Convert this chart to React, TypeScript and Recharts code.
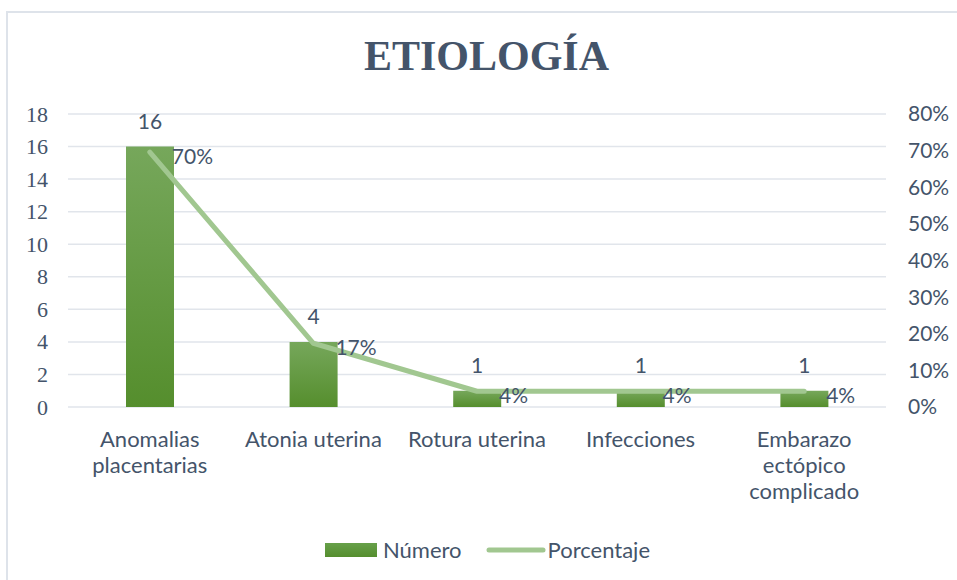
import { ComposedChart, Bar, Line, XAxis, YAxis, CartesianGrid, LabelList } from 'recharts';

const categories = ['Anomalias placentarias', 'Atonia uterina', 'Rotura uterina', 'Infecciones', 'Embarazo ectópico complicado'];
const numero = [16, 4, 1, 1, 1];
const porcentaje = [0.696, 0.174, 0.043, 0.043, 0.043];
const leftTicks = [0, 2, 4, 6, 8, 10, 12, 14, 16, 18];
const rightTicks = [0, 0.1, 0.2, 0.3, 0.4, 0.5, 0.6, 0.7, 0.8];

const TEXT = '#44546A';
const SANS = 'Lato, "Open Sans", sans-serif';
const SERIF = '"Liberation Serif", "DejaVu Serif", serif';
const LINE_COLOR = '#A1C790';

const chartData = categories.map((name, i) => ({
  name,
  numero: numero[i],
  porcentaje: porcentaje[i],
}));

// wrap category names the way the original does (about 14 chars per line)
const wrap = (label: string, max = 14) => {
  const words = label.split(' ');
  const lines: string[] = [];
  let cur = '';
  words.forEach((w) => {
    const next = cur ? `${cur} ${w}` : w;
    if (next.length > max && cur) {
      lines.push(cur);
      cur = w;
    } else {
      cur = next;
    }
  });
  if (cur) lines.push(cur);
  return lines;
};

type TickProps = { x?: number; y?: number; payload?: { value: string | number } };

const CategoryTick = ({ x = 0, y = 0, payload }: TickProps) => {
  const lines = wrap(String(payload?.value ?? ''));
  return (
    <text x={x} y={y} textAnchor="middle" fill={TEXT} fontFamily={SANS} fontSize={22}>
      {lines.map((l, i) => (
        <tspan key={i} x={x} dy={i === 0 ? 32 : 26}>
          {l}
        </tspan>
      ))}
    </text>
  );
};

const LeftTick = ({ x = 0, y = 0, payload }: TickProps) => (
  <text x={x} y={y} textAnchor="end" dominantBaseline="central" fill={TEXT} fontFamily={SERIF} fontSize={22}>
    {payload?.value}
  </text>
);

type LabelProps = { x?: number; y?: number; value?: number };

const PctLabel = ({ x = 0, y = 0, value = 0 }: LabelProps) => (
  <text x={x + 22} y={y + 3} fill={TEXT} fontFamily={SANS} fontSize={21} dominantBaseline="central">
    {`${Math.round(value * 100)}%`}
  </text>
);

const CustomLegend = () => (
  <div
    style={{
      position: 'absolute',
      left: 0,
      width: 957,
      top: 536,
      display: 'flex',
      justifyContent: 'center',
      alignItems: 'center',
      fontFamily: SANS,
      fontSize: 22,
      color: TEXT,
      paddingLeft: 18,
      boxSizing: 'border-box',
    }}
  >
    <svg width={52} height={14} style={{ marginRight: 6 }}>
      <defs>
        <linearGradient id="legendGrad" x1="0" y1="0" x2="0" y2="1">
          <stop offset="0%" stopColor="#67A04A" />
          <stop offset="100%" stopColor="#558E2E" />
        </linearGradient>
      </defs>
      <rect x={0} y={0} width={52} height={14} fill="url(#legendGrad)" />
    </svg>
    <span style={{ marginRight: 24 }}>Número</span>
    <svg width={60} height={10} style={{ marginRight: 2 }}>
      <line x1={3} y1={5} x2={57} y2={5} stroke={LINE_COLOR} strokeWidth={5} strokeLinecap="round" />
    </svg>
    <span>Porcentaje</span>
  </div>
);

export default function App() {
  return (
    <div style={{ position: 'absolute', left: 0, top: 0, width: 957, height: 580, background: '#fff', overflow: 'hidden' }}>
      <div
        style={{
          position: 'absolute',
          left: 6,
          top: 11,
          width: 1000,
          height: 700,
          borderTop: '2px solid #DEE3EA',
          borderLeft: '2px solid #DEE3EA',
        }}
      />
      <div
        style={{
          position: 'absolute',
          left: 0,
          width: 957,
          top: 32,
          textAlign: 'center',
          fontFamily: SERIF,
          fontWeight: 'bold',
          fontSize: 42,
          color: TEXT,
          paddingLeft: 16,
          boxSizing: 'border-box',
        }}
      >
        ETIOLOGÍA
      </div>
      <div style={{ position: 'absolute', left: 0, top: 0 }}>
        <ComposedChart width={957} height={580} data={chartData} margin={{ top: 114, right: 0, left: 0, bottom: 143 }}>
          <defs>
            <linearGradient id="barGrad" x1="0" y1="0" x2="0" y2="1">
              <stop offset="0%" stopColor="#76A75B" />
              <stop offset="100%" stopColor="#558E2D" />
            </linearGradient>
          </defs>
          <CartesianGrid vertical={false} stroke="#E1E5EB" strokeWidth={1.5} yAxisId="left" />
          <XAxis dataKey="name" height={30} axisLine={false} tickLine={false} tick={<CategoryTick />} interval={0} />
          <YAxis
            yAxisId="left"
            width={68}
            domain={[0, 18]}
            ticks={leftTicks}
            interval={0}
            axisLine={false}
            tickLine={false}
            tickMargin={14}
            tick={<LeftTick />}
          />
          <YAxis
            yAxisId="right"
            orientation="right"
            width={71}
            domain={[0, 0.8]}
            ticks={rightTicks}
            interval={0}
            axisLine={false}
            tickLine={false}
            tickMargin={16}
            tickFormatter={(v: number) => `${Math.round(v * 100)}%`}
            tick={{ fill: TEXT, fontFamily: SANS, fontSize: 21, textAnchor: 'start' }}
          />
          <Bar yAxisId="left" dataKey="numero" name="Número" fill="url(#barGrad)" barSize={48} isAnimationActive={false}>
            <LabelList dataKey="numero" position="top" offset={18} fill={TEXT} fontFamily={SANS} fontSize={21} />
          </Bar>
          <Line
            yAxisId="right"
            type="linear"
            dataKey="porcentaje"
            name="Porcentaje"
            stroke={LINE_COLOR}
            strokeWidth={5}
            strokeLinecap="round"
            strokeLinejoin="round"
            dot={false}
            activeDot={false}
            isAnimationActive={false}
          >
            <LabelList dataKey="porcentaje" content={<PctLabel />} />
          </Line>
        </ComposedChart>
      </div>
      <CustomLegend />
    </div>
  );
}
